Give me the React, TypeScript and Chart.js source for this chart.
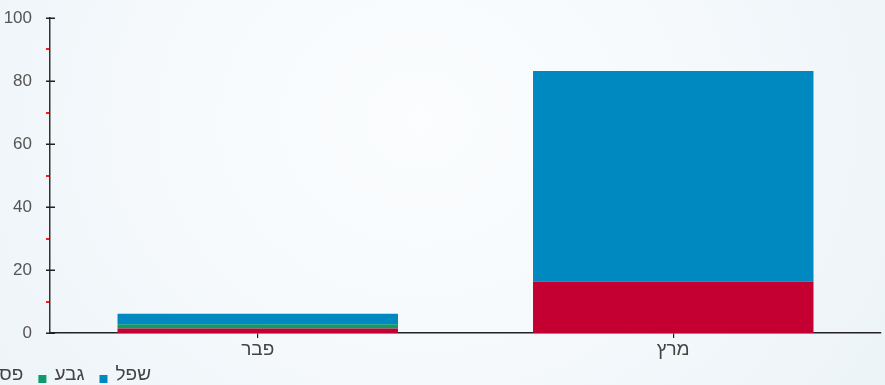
import React, { useEffect, useRef } from "react";
import { Chart, registerables } from "chart.js";

Chart.register(...registerables);

const categories = ["פבר", "מרץ"];
const peakLabel = "פסגה";
const shoulderLabel = "גבע";
const offPeakLabel = "שפל";
const peakValues = [1.4, 16.3];
const shoulderValues = [1.4, 0];
const offPeakValues = [3.3, 66.9];
const yMajorStep = 20;
const yMinorStep = 10;

const FONT = "'Liberation Sans', Arial, sans-serif";

const axisTicks = {
  id: "axisTicks",
  afterDraw(chart: any) {
    const ctx = chart.ctx;
    const y = chart.scales.y;
    const ax = Math.round(y.right);
    ctx.save();
    for (let v = y.min; v <= y.max; v += yMinorStep) {
      const py = Math.round(y.getPixelForValue(v));
      const major = v % yMajorStep === 0;
      if (major) {
        ctx.fillStyle = "#222";
        ctx.fillRect(ax - 4, py - 0.5, 9, 1.5);
      } else {
        ctx.fillStyle = "#ff1a1a";
        ctx.fillRect(ax - 4, py - 1, 3, 2);
      }
    }
    ctx.restore();
  },
};

const rtlLegend = {
  id: "rtlLegend",
  afterDraw(chart: any) {
    const ctx = chart.ctx;
    const items = [...chart.data.datasets].reverse();
    ctx.save();
    ctx.font = `19px ${FONT}`;
    ctx.textBaseline = "middle";
    ctx.textAlign = "right";
    let x = 151;
    const cy = 375;
    for (const ds of items) {
      const w = ctx.measureText(ds.label).width;
      ctx.fillStyle = "#444";
      ctx.fillText(ds.label, x, cy);
      const bx = x - w - 8 - 8;
      ctx.fillStyle = ds.backgroundColor;
      ctx.fillRect(bx, cy, 8, 8);
      x = bx - 15;
    }
    ctx.restore();
  },
};

export default function App() {
  const ref = useRef<HTMLCanvasElement>(null);
  useEffect(() => {
    if (!ref.current) return;
    const chart = new Chart(ref.current, {
      type: "bar",
      data: {
        labels: categories,
        datasets: [
          { label: peakLabel, data: peakValues, backgroundColor: "#c40033" },
          { label: shoulderLabel, data: shoulderValues, backgroundColor: "#0e9a6a" },
          { label: offPeakLabel, data: offPeakValues, backgroundColor: "#0088c0" },
        ],
      },
      options: {
        animation: false,
        responsive: true,
        maintainAspectRatio: false,
        layout: { padding: { top: 18, right: 4, bottom: 24, left: 0 } },
        plugins: { legend: { display: false }, tooltip: { enabled: false } },
        datasets: { bar: { barPercentage: 0.675, categoryPercentage: 1 } },
        scales: {
          x: {
            stacked: true,
            grid: { display: true, drawOnChartArea: false, offset: false, tickLength: 5, tickColor: "#222", lineWidth: 1.2 },
            border: { color: "#222", width: 1.5 },
            ticks: { color: "#444", font: { family: FONT, size: 19 }, padding: 0 },
            afterFit: (s: any) => { s.height = 28; s.paddingLeft = 0; s.paddingRight = 0; },
          },
          y: {
            stacked: true,
            min: 0,
            max: 100,
            grid: { display: false },
            border: { display: true, color: "#333", width: 1.5 },
            ticks: {
              stepSize: yMajorStep,
              color: "#555",
              padding: 10,
              font: { family: FONT, size: 17 },
            },
            afterFit: (s: any) => { s.width = 50; s.paddingTop = 0; s.paddingBottom = 0; },
          },
        },
      },
      plugins: [axisTicks, rtlLegend],
    });
    return () => chart.destroy();
  }, []);
  return (
    <div
      style={{
        position: "fixed",
        left: 0,
        top: 0,
        width: 885,
        height: 385,
        overflow: "hidden",
        background:
          "radial-gradient(ellipse 520px 460px at 420px 120px, #fbfdfe 0%, #f5f9fc 55%, #edf4f8 100%)",
      }}
    >
      <canvas ref={ref} />
    </div>
  );
}
